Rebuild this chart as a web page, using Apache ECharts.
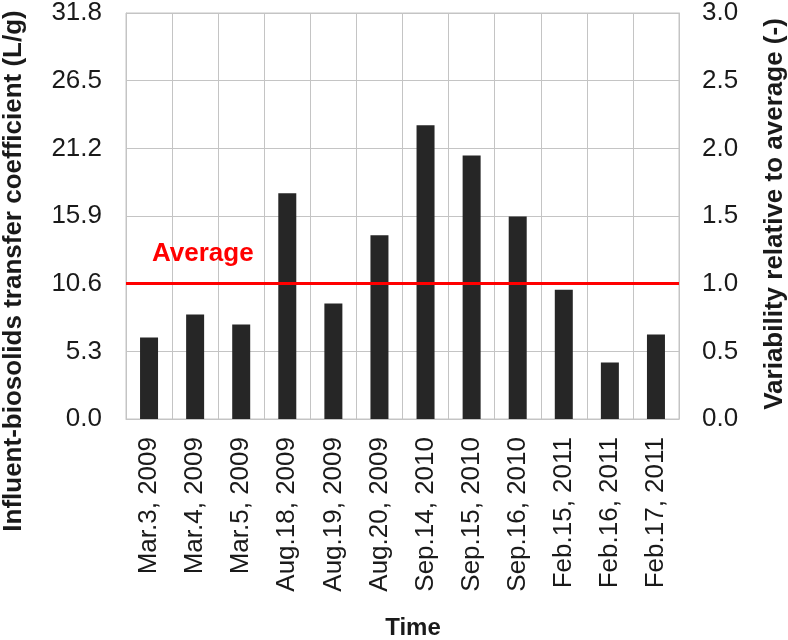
<!DOCTYPE html>
<html>
<head>
<meta charset="utf-8">
<script src="https://cdn.jsdelivr.net/npm/echarts@6/dist/echarts.min.js"></script>
<style>
html,body{margin:0;padding:0;background:#fff;}
#chart{width:788px;height:640px;}
</style>
</head>
<body>
<div id="chart"></div>
<script>
const categories = ["Mar.3, 2009","Mar.4, 2009","Mar.5, 2009","Aug.18, 2009","Aug.19, 2009","Aug.20, 2009","Sep.14, 2010","Sep.15, 2010","Sep.16, 2010","Feb.15, 2011","Feb.16, 2011","Feb.17, 2011"];
const coefficientValues = [6.38, 8.18, 7.40, 17.68, 9.04, 14.40, 23.0, 20.63, 15.86, 10.13, 4.43, 6.62];
const averageValue = 10.6;
const leftAxisRange = [0, 31.8, 5.3];
const rightAxisRange = [0, 3.0, 0.5];
const averageLabel = "Average";
const leftTitle = "Influent-biosolids transfer coefficient (L/g)";
const rightTitle = "Variability relative to average (-)";
const xTitle = "Time";

const FONT = "Liberation Sans, Arial, sans-serif";
const TXT = "#1a1a1a";
const GRID = "#c4c4c4";

const chart = echarts.init(document.getElementById('chart'), null, {renderer:'canvas'});
chart.setOption({
  animation: false,
  backgroundColor: '#fff',
  textStyle: {fontFamily: FONT},
  grid: {left:126, right:109, top:12, bottom:221, show:true, borderColor:GRID, borderWidth:1, containLabel:false},
  xAxis: {
    type:'category', data: categories, boundaryGap:true,
    axisLine:{show:true, lineStyle:{color:GRID, width:1}},
    axisTick:{show:false},
    splitLine:{show:true, interval:0, lineStyle:{color:GRID, width:1}},
    axisLabel:{interval:0, rotate:90, margin:18, fontSize:26, color:TXT, fontFamily:FONT}
  },
  yAxis: [
    {
      type:'value', min:leftAxisRange[0], max:leftAxisRange[1], interval:leftAxisRange[2],
      axisLine:{show:true, lineStyle:{color:GRID}},
      axisTick:{show:false},
      splitLine:{show:true, lineStyle:{color:GRID, width:1}},
      axisLabel:{margin:24, fontSize:26, color:TXT, fontFamily:FONT, formatter:v=>v.toFixed(1)}
    },
    {
      type:'value', position:'right', min:rightAxisRange[0], max:rightAxisRange[1], interval:rightAxisRange[2],
      axisLine:{show:true, lineStyle:{color:GRID}},
      axisTick:{show:false},
      splitLine:{show:false},
      axisLabel:{margin:23, fontSize:26, color:TXT, fontFamily:FONT, formatter:v=>v.toFixed(1)}
    }
  ],
  series: [{
    type:'bar', yAxisIndex:0, data: coefficientValues, barWidth:18,
    itemStyle:{color:'#262626'},
    markLine:{
      silent:true, symbol:['none','none'],
      lineStyle:{color:'#ff0000', width:3, type:'solid'},
      label:{show:true, formatter:averageLabel, position:'insideStartTop', distance:[26,17],
             color:'#ff0000', fontWeight:'bold', fontSize:26, fontFamily:FONT},
      data:[{yAxis: averageValue}]
    }
  }],
  graphic: [
    {type:'text', x:14, y:271, rotation:Math.PI/2,
     style:{text:leftTitle, font:'bold 26px '+FONT, fill:TXT, align:'center', verticalAlign:'middle'}},
    {type:'text', x:775, y:214, rotation:Math.PI/2,
     style:{text:rightTitle, font:'bold 26px '+FONT, fill:TXT, align:'center', verticalAlign:'middle'}},
    {type:'text', x:413, y:628,
     style:{text:xTitle, font:'bold 24px '+FONT, fill:TXT, align:'center', verticalAlign:'middle'}}
  ]
});
</script>
</body>
</html>
